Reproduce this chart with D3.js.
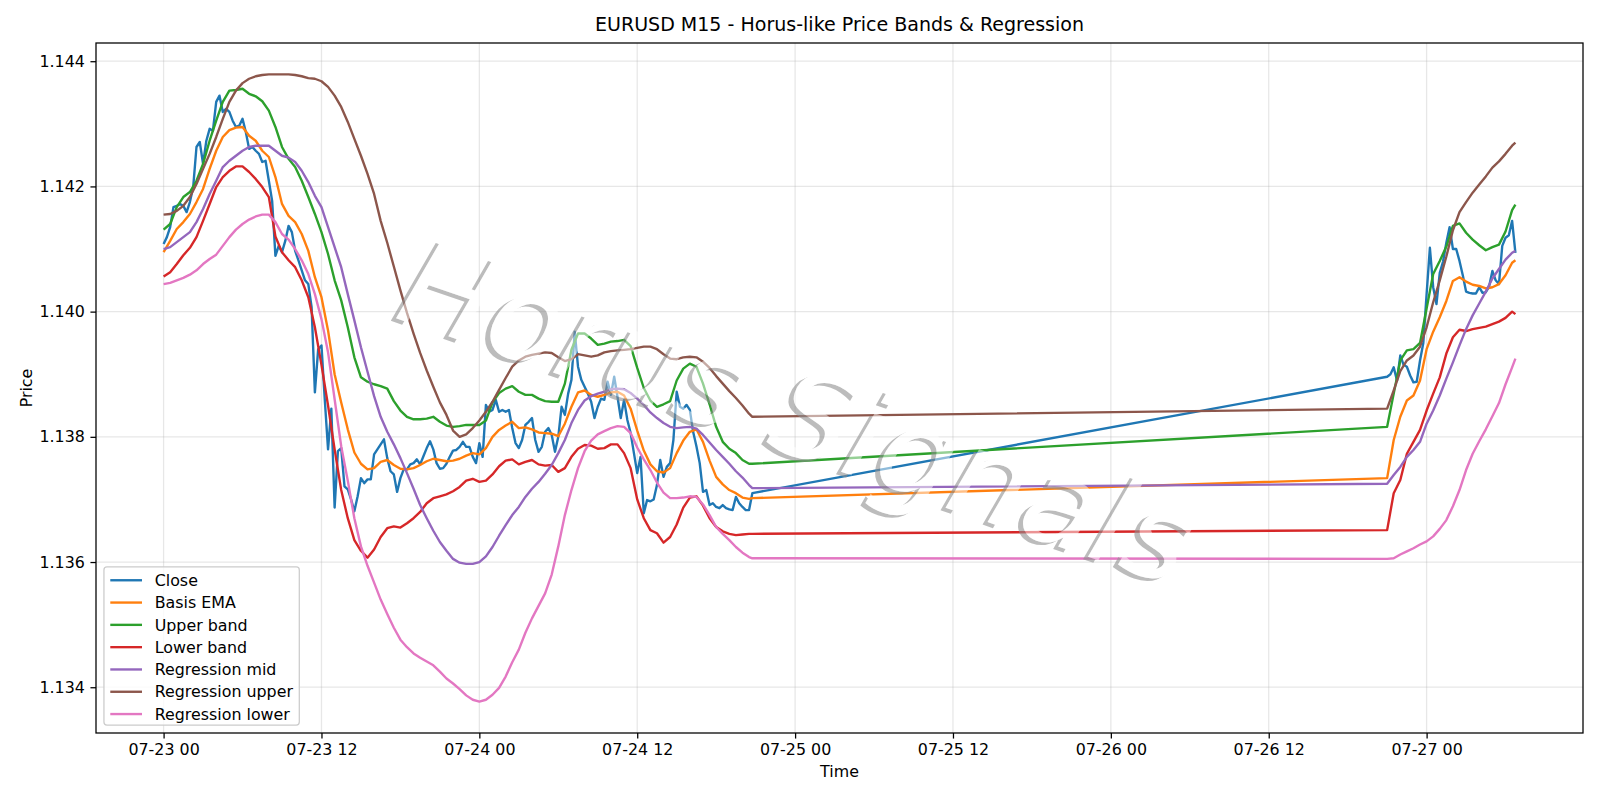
<!DOCTYPE html>
<html>
<head>
<meta charset="utf-8">
<title>EURUSD M15 - Horus-like Price Bands & Regression</title>
<style>
  body { margin: 0; background: #fff; }
  svg { display: block; font-family: "DejaVu Sans", sans-serif; }
</style>
</head>
<body>
<div id="chart"></div>
<script src="https://d3js.org/d3.v7.min.js"></script>
<script>
// bar times as hours after 07-23 00:00 (weekday block, then the Sunday open)
var closeHours = d3.range(0, 45, 0.25).concat(d3.range(93, 103, 0.25));
var bandHours = d3.range(0, 45, 0.5).concat([44.75], d3.range(93, 103, 0.5), [102.75]);

var closePrices = [
  1.14108, 1.14119, 1.14135, 1.14167, 1.14169, 1.14172, 1.14169, 1.14159, 1.14175, 1.14199,
  1.14263, 1.14271, 1.14236, 1.14273, 1.14292, 1.14289, 1.14335, 1.14345, 1.14319, 1.14324,
  1.14319, 1.14305, 1.14295, 1.14297, 1.14308, 1.14287, 1.14260, 1.14263, 1.14257, 1.14252,
  1.14239, 1.14241, 1.14209, 1.14177, 1.14089, 1.14105, 1.14095, 1.14113, 1.14137, 1.14127,
  1.14097, 1.14082, 1.14066, 1.14050, 1.14044, 1.14007, 1.13871, 1.13940, 1.13946, 1.13860,
  1.13780, 1.13845, 1.13687, 1.13777, 1.13782, 1.13721, 1.13716, 1.13700, 1.13681, 1.13705,
  1.13734, 1.13726, 1.13732, 1.13732, 1.13772, 1.13780, 1.13788, 1.13796, 1.13766, 1.13745,
  1.13740, 1.13712, 1.13734, 1.13748, 1.13748, 1.13756, 1.13758, 1.13764, 1.13756, 1.13769,
  1.13782, 1.13793, 1.13780, 1.13758, 1.13749, 1.13750, 1.13757, 1.13768, 1.13778, 1.13779,
  1.13784, 1.13792, 1.13784, 1.13784, 1.13768, 1.13758, 1.13790, 1.13768, 1.13851, 1.13840,
  1.13843, 1.13859, 1.13840, 1.13843, 1.13840, 1.13843, 1.13814, 1.13790, 1.13782, 1.13795,
  1.13819, 1.13824, 1.13830, 1.13795, 1.13776, 1.13784, 1.13808, 1.13814, 1.13803, 1.13776,
  1.13800, 1.13848, 1.13835, 1.13869, 1.13891, 1.13968, 1.13912, 1.13891, 1.13880, 1.13869,
  1.13856, 1.13830, 1.13848, 1.13861, 1.13859, 1.13888, 1.13867, 1.13896, 1.13864, 1.13830,
  1.13859, 1.13827, 1.13806, 1.13774, 1.13742, 1.13768, 1.13678, 1.13699, 1.13697, 1.13700,
  1.13723, 1.13763, 1.13736, 1.13752, 1.13758, 1.13795, 1.13872, 1.13848, 1.13845, 1.13851,
  1.13843, 1.13808, 1.13785, 1.13758, 1.13712, 1.13715, 1.13691, 1.13694, 1.13688, 1.13686,
  1.13691, 1.13686, 1.13684, 1.13683, 1.13704, 1.13694, 1.13688, 1.13683, 1.13683, 1.13710,
  1.13896, 1.13900, 1.13911, 1.13890, 1.13930, 1.13915, 1.13912, 1.13898, 1.13887, 1.13888,
  1.13922, 1.13950, 1.14028, 1.14102, 1.14039, 1.14012, 1.14062, 1.14080, 1.14110, 1.14135,
  1.14100, 1.14100, 1.14081, 1.14058, 1.14032, 1.14030, 1.14029, 1.14029, 1.14039, 1.14030,
  1.14031, 1.14040, 1.14065, 1.14050, 1.14044, 1.14105, 1.14118, 1.14122, 1.14145, 1.14094
];

var basisEma = [
  1.14095, 1.14113, 1.14132, 1.14143, 1.14156, 1.14175, 1.14196, 1.14228, 1.14257, 1.14279,
  1.14290, 1.14294, 1.14295, 1.14281, 1.14273, 1.14257, 1.14247, 1.14215, 1.14172, 1.14153,
  1.14143, 1.14124, 1.14097, 1.14055, 1.14023, 1.13970, 1.13900, 1.13855, 1.13812, 1.13775,
  1.13757, 1.13748, 1.13750, 1.13760, 1.13763, 1.13755, 1.13749, 1.13748, 1.13750, 1.13755,
  1.13761, 1.13765, 1.13763, 1.13761, 1.13762, 1.13765, 1.13770, 1.13774, 1.13772, 1.13782,
  1.13800, 1.13811, 1.13818, 1.13824, 1.13814, 1.13815, 1.13812, 1.13807, 1.13806, 1.13805,
  1.13801, 1.13821, 1.13848, 1.13871, 1.13874, 1.13867, 1.13864, 1.13867, 1.13871, 1.13872,
  1.13866, 1.13845, 1.13810, 1.13778, 1.13756, 1.13745, 1.13743, 1.13750, 1.13774, 1.13794,
  1.13808, 1.13812, 1.13792, 1.13762, 1.13736, 1.13724, 1.13715, 1.13710, 1.13703, 1.13701,
  1.13702,
  1.13734, 1.13795, 1.13832, 1.13858, 1.13866, 1.13890, 1.13940, 1.13968, 1.13991, 1.14017,
  1.14049, 1.14055, 1.14048, 1.14043, 1.14041, 1.14037, 1.14039, 1.14044, 1.14058, 1.14078,
  1.14082
];

var upperBand = [
  1.14131, 1.14140, 1.14167, 1.14183, 1.14191, 1.14209, 1.14236, 1.14273, 1.14305, 1.14335,
  1.14353, 1.14354, 1.14356, 1.14348, 1.14344, 1.14336, 1.14321, 1.14295, 1.14263, 1.14244,
  1.14231, 1.14209, 1.14183, 1.14156, 1.14127, 1.14092, 1.14050, 1.14018, 1.13975, 1.13927,
  1.13895, 1.13888, 1.13884, 1.13881, 1.13877, 1.13857, 1.13842, 1.13832, 1.13828, 1.13828,
  1.13829, 1.13832, 1.13824, 1.13818, 1.13816, 1.13817, 1.13819, 1.13819, 1.13819, 1.13826,
  1.13855, 1.13870, 1.13877, 1.13881, 1.13872, 1.13867, 1.13867, 1.13861, 1.13857, 1.13856,
  1.13856, 1.13885, 1.13939, 1.13965, 1.13965, 1.13957, 1.13947, 1.13949, 1.13952, 1.13953,
  1.13955, 1.13945, 1.13910, 1.13878, 1.13858, 1.13848, 1.13852, 1.13857, 1.13890, 1.13909,
  1.13917, 1.13912, 1.13885, 1.13852, 1.13816, 1.13792, 1.13781, 1.13774, 1.13763, 1.13757,
  1.13757,
  1.13816, 1.13869, 1.13922, 1.13938, 1.13940, 1.13950, 1.14005, 1.14060, 1.14081, 1.14104,
  1.14137, 1.14141, 1.14126, 1.14115, 1.14106, 1.14098, 1.14103, 1.14107, 1.14128, 1.14162,
  1.14171
];

var lowerBand = [
  1.14056, 1.14063, 1.14076, 1.14090, 1.14102, 1.14119, 1.14145, 1.14172, 1.14199, 1.14215,
  1.14225, 1.14232, 1.14232, 1.14223, 1.14212, 1.14199, 1.14183, 1.14120, 1.14095, 1.14082,
  1.14071, 1.14050, 1.14023, 1.13975, 1.13915, 1.13850, 1.13780, 1.13715, 1.13670, 1.13635,
  1.13618, 1.13607, 1.13620, 1.13640, 1.13654, 1.13657, 1.13655, 1.13662, 1.13670, 1.13680,
  1.13694, 1.13702, 1.13705, 1.13708, 1.13713, 1.13720, 1.13730, 1.13733, 1.13728, 1.13730,
  1.13740, 1.13753, 1.13762, 1.13764, 1.13756, 1.13760, 1.13763, 1.13756, 1.13754, 1.13755,
  1.13744, 1.13750, 1.13768, 1.13781, 1.13787, 1.13786, 1.13781, 1.13782, 1.13788, 1.13788,
  1.13774, 1.13750, 1.13700, 1.13670, 1.13651, 1.13646, 1.13631, 1.13640, 1.13660, 1.13687,
  1.13703, 1.13705, 1.13690, 1.13670, 1.13656, 1.13649, 1.13645, 1.13643, 1.13644, 1.13645,
  1.13645,
  1.13651, 1.13710, 1.13731, 1.13773, 1.13792, 1.13811, 1.13842, 1.13869, 1.13895, 1.13933,
  1.13959, 1.13971, 1.13969, 1.13972, 1.13974, 1.13976, 1.13980, 1.13984, 1.13990, 1.14000,
  1.13996
];

var regMid = [
  1.14100, 1.14103, 1.14111, 1.14119, 1.14127, 1.14143, 1.14164, 1.14188, 1.14209, 1.14231,
  1.14241, 1.14249, 1.14257, 1.14263, 1.14265, 1.14265, 1.14265, 1.14257, 1.14249, 1.14246,
  1.14239, 1.14225, 1.14207, 1.14185, 1.14167, 1.14135, 1.14103, 1.14071, 1.14028, 1.13986,
  1.13943, 1.13904, 1.13865, 1.13832, 1.13808, 1.13788, 1.13766, 1.13742, 1.13717, 1.13691,
  1.13670, 1.13650, 1.13632, 1.13618, 1.13605, 1.13599, 1.13597, 1.13597, 1.13600, 1.13609,
  1.13624, 1.13642, 1.13659, 1.13675, 1.13688, 1.13704, 1.13717, 1.13728, 1.13741, 1.13755,
  1.13774, 1.13795, 1.13822, 1.13843, 1.13858, 1.13865, 1.13869, 1.13872, 1.13876, 1.13877,
  1.13876, 1.13870, 1.13861, 1.13851, 1.13839, 1.13830, 1.13822, 1.13816, 1.13814, 1.13815,
  1.13816, 1.13813, 1.13803, 1.13791, 1.13779, 1.13768, 1.13757, 1.13745, 1.13735, 1.13723,
  1.13718,
  1.13725, 1.13739, 1.13752, 1.13768, 1.13779, 1.13792, 1.13821, 1.13842, 1.13866, 1.13893,
  1.13919, 1.13946, 1.13972, 1.13994, 1.14013, 1.14032, 1.14053, 1.14068, 1.14083, 1.14094,
  1.14097
];

var regUpper = [
  1.14155, 1.14156, 1.14161, 1.14169, 1.14183, 1.14204, 1.14228, 1.14252, 1.14279, 1.14308,
  1.14335, 1.14353, 1.14365, 1.14372, 1.14376, 1.14378, 1.14379, 1.14379, 1.14379, 1.14379,
  1.14378, 1.14376, 1.14373, 1.14372, 1.14368, 1.14359, 1.14345, 1.14327, 1.14303, 1.14276,
  1.14249, 1.14220, 1.14188, 1.14145, 1.14110, 1.14072, 1.14034, 1.13998, 1.13965, 1.13934,
  1.13906, 1.13880, 1.13855, 1.13835, 1.13810, 1.13800, 1.13804, 1.13814, 1.13826, 1.13840,
  1.13856, 1.13875, 1.13894, 1.13912, 1.13922, 1.13928, 1.13931, 1.13933, 1.13935, 1.13934,
  1.13927, 1.13921, 1.13924, 1.13932, 1.13930, 1.13928, 1.13930, 1.13935, 1.13937, 1.13938,
  1.13939, 1.13940, 1.13942, 1.13944, 1.13944, 1.13940, 1.13932, 1.13925, 1.13924, 1.13927,
  1.13928, 1.13927, 1.13920, 1.13910, 1.13897, 1.13885, 1.13873, 1.13862, 1.13850, 1.13837,
  1.13832,
  1.13845, 1.13874, 1.13905, 1.13922, 1.13930, 1.13944, 1.13975, 1.14015, 1.14050, 1.14088,
  1.14130, 1.14159, 1.14175, 1.14190, 1.14203, 1.14216, 1.14230, 1.14240, 1.14252, 1.14265,
  1.14270
];

var regLower = [
  1.14044, 1.14046, 1.14050, 1.14054, 1.14059, 1.14066, 1.14076, 1.14084, 1.14091, 1.14105,
  1.14119, 1.14131, 1.14140, 1.14147, 1.14152, 1.14155, 1.14155, 1.14143, 1.14124, 1.14115,
  1.14100, 1.14082, 1.14060, 1.14028, 1.13988, 1.13935, 1.13860, 1.13785, 1.13730, 1.13670,
  1.13625, 1.13594, 1.13567, 1.13540, 1.13517, 1.13495, 1.13476, 1.13464, 1.13454, 1.13447,
  1.13441, 1.13435, 1.13425, 1.13414, 1.13406, 1.13397, 1.13387, 1.13380, 1.13377, 1.13380,
  1.13388, 1.13399, 1.13417, 1.13440, 1.13460, 1.13487, 1.13510, 1.13530, 1.13550, 1.13580,
  1.13625, 1.13675, 1.13715, 1.13750, 1.13777, 1.13794, 1.13804, 1.13809, 1.13814, 1.13817,
  1.13816, 1.13806, 1.13783, 1.13764, 1.13747, 1.13727, 1.13711, 1.13702, 1.13702, 1.13703,
  1.13705, 1.13704, 1.13692, 1.13675, 1.13656, 1.13645, 1.13635, 1.13624, 1.13615, 1.13608,
  1.13606,
  1.13605, 1.13606, 1.13612, 1.13617, 1.13622, 1.13628, 1.13633, 1.13641, 1.13653, 1.13667,
  1.13689, 1.13715, 1.13747, 1.13773, 1.13793, 1.13812, 1.13833, 1.13854, 1.13884, 1.13911,
  1.13925
];

var yTicks = [1.134, 1.136, 1.138, 1.140, 1.142, 1.144];
var seriesNames = ["Close", "Basis EMA", "Upper band", "Lower band", "Regression mid", "Regression upper", "Regression lower"];
var seriesColors = ["#1f77b4", "#ff7f0e", "#2ca02c", "#d62728", "#9467bd", "#8c564b", "#e377c2"];

var startDate = new Date(2025, 6, 23, 0, 0);
function toDate(h) { return new Date(startDate.getTime() + h * 3600 * 1000); }

var seriesValues = [closePrices, basisEma, upperBand, lowerBand, regMid, regUpper, regLower];
var series = seriesValues.map(function(vals, i) {
    var hours = i === 0 ? closeHours : bandHours;
    return {
        name: seriesNames[i],
        color: seriesColors[i],
        points: vals.map(function(v, j) { return { date: toDate(hours[j]), value: v }; })
    };
});

var W = 1600, H = 800;
var box = { left: 96, right: 1583, top: 43, bottom: 733 };
var fontSmall = 15.87;

var svg = d3.select("#chart").append("svg")
    .attr("width", W)
    .attr("height", H);

svg.append("rect").attr("width", W).attr("height", H).attr("fill", "#fff");

// matplotlib-like 5% margins around the data
var allPts = d3.merge(series.map(function(s) { return s.points; }));
var tExt = d3.extent(allPts, function(d) { return d.date.getTime(); });
var vExt = d3.extent(allPts, function(d) { return d.value; });
var tPad = (tExt[1] - tExt[0]) * 0.05, vPad = (vExt[1] - vExt[0]) * 0.05;

var x = d3.scaleTime()
    .domain([new Date(tExt[0] - tPad), new Date(tExt[1] + tPad)])
    .range([box.left, box.right]);

var y = d3.scaleLinear()
    .domain([vExt[0] - vPad, vExt[1] + vPad])
    .range([box.bottom, box.top]);

var xTicks = x.ticks(d3.timeHour.every(12));

// grid
var grid = svg.append("g").attr("stroke", "#b0b0b0").attr("stroke-opacity", 0.3).attr("stroke-width", 1.27);
grid.selectAll(".gx").data(xTicks).enter().append("line")
    .attr("x1", function(d) { return x(d); }).attr("x2", function(d) { return x(d); })
    .attr("y1", box.top).attr("y2", box.bottom);
grid.selectAll(".gy").data(yTicks).enter().append("line")
    .attr("x1", box.left).attr("x2", box.right)
    .attr("y1", function(d) { return y(d); }).attr("y2", function(d) { return y(d); });

// lines
var line = d3.line()
    .x(function(d) { return x(d.date); })
    .y(function(d) { return y(d.value); });

var plot = svg.append("g");
plot.append("clipPath").attr("id", "clip").append("rect")
    .attr("x", box.left).attr("y", box.top)
    .attr("width", box.right - box.left).attr("height", box.bottom - box.top);

plot.selectAll("path.series")
    .data(series)
    .enter()
    .append("path")
    .attr("class", "series")
    .attr("clip-path", "url(#clip)")
    .attr("d", function(d) { return line(d.points); })
    .attr("fill", "none")
    .attr("stroke", function(d) { return d.color; })
    .attr("stroke-width", 2.38)
    .attr("stroke-linejoin", "round");

// watermark: grey shadow outside the glyphs, white veil over them
var wmText = "Horus Signals";
var wmTransform = "translate(798,412) rotate(19)";
var wmSize = "121px";
var defs = svg.append("defs");
var mask = defs.append("mask").attr("id", "wmMask");
mask.append("rect").attr("width", W).attr("height", H).attr("fill", "#fff");
mask.append("g").attr("transform", wmTransform)
  .append("text").text(wmText)
    .attr("text-anchor", "middle").attr("dy", "0.35em")
    .style("font-size", wmSize).style("font-style", "italic")
    .attr("fill", "#000");

var wm = svg.append("g").attr("pointer-events", "none");
wm.append("g").attr("mask", "url(#wmMask)")
  .append("g").attr("transform", wmTransform)
  .append("text").text(wmText)
    .attr("x", -4).attr("y", 4)
    .attr("text-anchor", "middle").attr("dy", "0.35em")
    .style("font-size", wmSize).style("font-style", "italic")
    .attr("fill", "#8f8f8f").attr("fill-opacity", 0.6);
wm.append("g").attr("transform", wmTransform)
  .append("text").text(wmText)
    .attr("text-anchor", "middle").attr("dy", "0.35em")
    .style("font-size", wmSize).style("font-style", "italic")
    .attr("fill", "#fff").attr("fill-opacity", 0.5);

// axes
var xAxis = svg.append("g")
    .attr("transform", "translate(0," + box.bottom + ")")
    .call(d3.axisBottom(x).tickValues(xTicks).tickFormat(d3.timeFormat("%m-%d %H"))
        .tickSizeInner(5.56).tickSizeOuter(0).tickPadding(5.56));
var yAxis = svg.append("g")
    .attr("transform", "translate(" + box.left + ",0)")
    .call(d3.axisLeft(y).tickValues(yTicks).tickFormat(d3.format(".3f"))
        .tickSizeInner(5.56).tickSizeOuter(0).tickPadding(5.56));

[xAxis, yAxis].forEach(function(a) {
    a.select(".domain").remove();
    a.selectAll(".tick line").attr("stroke", "#000").attr("stroke-width", 1.27);
    a.selectAll(".tick text")
        .attr("fill", "#000")
        .style("font-size", fontSmall + "px")
        .style("font-family", "DejaVu Sans");
});

svg.append("rect")
    .attr("x", box.left).attr("y", box.top)
    .attr("width", box.right - box.left).attr("height", box.bottom - box.top)
    .attr("fill", "none").attr("stroke", "#000").attr("stroke-width", 1.27);

// labels
var midX = (box.left + box.right) / 2;
svg.append("text")
    .attr("x", midX).attr("y", 31)
    .attr("text-anchor", "middle")
    .style("font-size", "19.05px")
    .text("EURUSD M15 - Horus-like Price Bands & Regression");

svg.append("text")
    .attr("x", midX).attr("y", 777)
    .attr("text-anchor", "middle")
    .style("font-size", fontSmall + "px")
    .text("Time");

svg.append("text")
    .attr("transform", "translate(32," + ((box.top + box.bottom) / 2) + ") rotate(-90)")
    .attr("text-anchor", "middle")
    .style("font-size", fontSmall + "px")
    .text("Price");

// legend, lower left
var lg = svg.append("g");
var lgLeft = box.left + 7.94, rowH = 22.3, pad = 6.35;
var lgBox = lg.append("rect")
    .attr("rx", 3).attr("ry", 3)
    .attr("fill", "#fff").attr("fill-opacity", 0.8)
    .attr("stroke", "#cccccc").attr("stroke-width", 1.27);
var lgTop = box.bottom - 7.94 - (rowH * series.length + 2);
var maxW = 0;
series.forEach(function(s, i) {
    var cy = lgTop + 13.3 + i * rowH;
    lg.append("line")
        .attr("x1", lgLeft + pad).attr("x2", lgLeft + pad + 31.7)
        .attr("y1", cy).attr("y2", cy)
        .attr("stroke", s.color).attr("stroke-width", 2.38);
    var t = lg.append("text")
        .attr("x", lgLeft + pad + 31.7 + 12.7).attr("y", cy)
        .attr("dy", "0.36em")
        .style("font-size", fontSmall + "px")
        .text(s.name);
    maxW = Math.max(maxW, t.node().getComputedTextLength());
});
lgBox.attr("x", lgLeft).attr("y", lgTop)
    .attr("width", pad + 31.7 + 12.7 + maxW + pad)
    .attr("height", box.bottom - 7.94 - lgTop);
</script>
</body>
</html>
